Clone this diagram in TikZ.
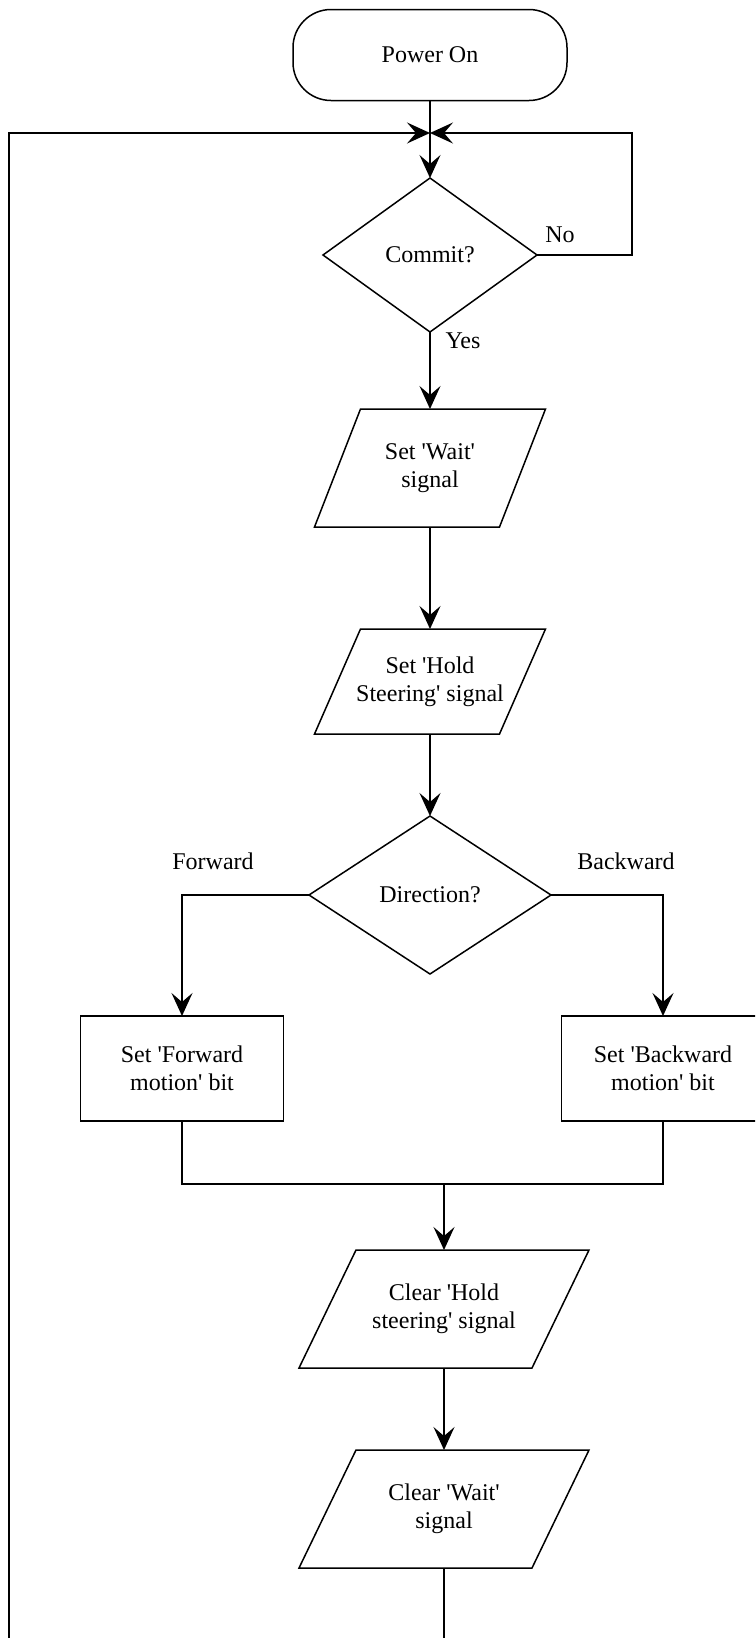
\documentclass[tikz,border=0pt]{standalone}
\usepackage{fontspec}
\setmainfont{Liberation Serif}
\usetikzlibrary{shapes.geometric,arrows.meta,calc}
\newcommand\sq{\textquotesingle}
% parallelogram drawn round a plain text node: #1 node name, #2 slant
\newcommand\ioshape[2]{%
  \draw[line] ($(#1.north west)+(#2,0)$) -- (#1.north east)
    -- ($(#1.south east)-(#2,0)$) -- (#1.south west) -- cycle;}
\begin{document}
\begin{tikzpicture}[x=1pt,y=-1pt,
  line/.style={line width=1.5pt},
  flow/.style={line,-{Stealth[length=23pt,width=21pt,inset=9pt]}},
  txt/.style={font=\fontsize{24}{28}\selectfont,align=center,inner sep=0pt,outer sep=0pt},
  term/.style={txt,draw,line,rounded corners=38pt,minimum width=274pt,minimum height=91pt},
  decision/.style={txt,draw,line,diamond},
  procbox/.style={txt,draw,line,rectangle,minimum width=203pt,minimum height=105pt},
  iobox/.style={txt,rectangle}]
\useasboundingbox (0,0) rectangle (755,1638);
\clip (0,0) rectangle (755,1638);

% shapes
\node[term] (pwr) at (430,55) {Power On};
\coordinate (J) at (430,133);
\node[decision,minimum width=214pt,minimum height=154pt] (commit) at (430,255) {Commit?};
\node[iobox,minimum width=231pt,minimum height=118pt] (p1) at (430,468) {Set \sq Wait\sq\\signal};
\ioshape{p1}{46}
\node[iobox,minimum width=231pt,minimum height=105pt] (p2) at (430,681.5) {Set \sq Hold\\Steering\sq\ signal};
\ioshape{p2}{46}
\node[decision,minimum width=242pt,minimum height=158pt] (dir) at (430,895) {Direction?};
\node[procbox] (fwd) at (182,1068.5) {Set \sq Forward\\motion\sq\ bit};
\node[procbox] (bwd) at (663,1068.5) {Set \sq Backward\\motion\sq\ bit};
\coordinate (m) at (444,1184);
\node[iobox,minimum width=290pt,minimum height=118pt] (p3) at (444,1309) {Clear \sq Hold\\steering\sq\ signal};
\ioshape{p3}{57}
\node[iobox,minimum width=290pt,minimum height=118pt] (p4) at (444,1509) {Clear \sq Wait\sq\\signal};
\ioshape{p4}{57}
\coordinate (lb) at (9,1645);
\coordinate (pb) at (444,1645);

% labels
\node[txt] (lno) at (560,235) {No};
\node[txt] (lyes) at (463,341) {Yes};
\node[txt] (lfwd) at (213,861) {Forward};
\node[txt] (lbwd) at (626,861) {Backward};

% connectors
\draw[flow] (pwr.south) -- (commit.north);
\draw[flow] (commit.east) -- ++(95,0) |- (J);
\draw[flow] (lb) |- (J);
\draw[flow] (commit.south) -- (p1.north);
\draw[flow] (p1.south) -- (p2.north);
\draw[flow] (p2.south) -- (dir.north);
\draw[flow] (dir.west) -| (fwd.north);
\draw[flow] (dir.east) -| (bwd.north);
\draw[line] (fwd.south) |- (m) -| (bwd.south);
\draw[flow] (m) -- (p3.north);
\draw[flow] (p3.south) -- (p4.north);
\draw[line] (p4.south) -- (pb);
\end{tikzpicture}
\end{document}
